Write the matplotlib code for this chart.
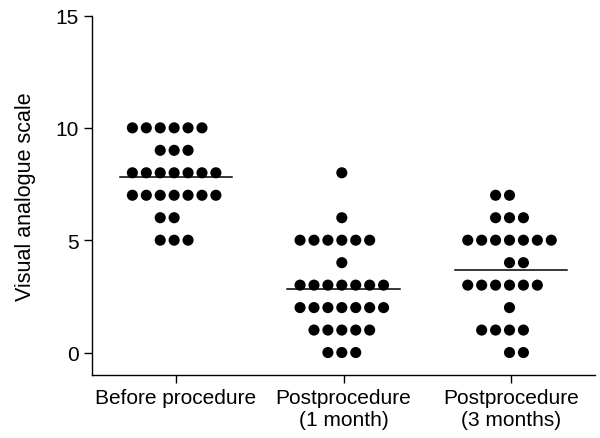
import numpy as np
import matplotlib.pyplot as plt

plt.rcParams['font.family'] = ['Liberation Sans', 'DejaVu Sans']

# Data: VAS score -> number of patients with that score
groups = ["Before procedure", "Postprocedure\n(1 month)", "Postprocedure\n(3 months)"]
scores_before = [10, 9, 8, 7, 6, 5]
counts_before = [6, 3, 7, 7, 2, 3]
scores_1m = [8, 6, 5, 4, 3, 2, 1, 0]
counts_1m = [1, 1, 6, 1, 7, 7, 5, 3]
scores_3m = [7, 6, 5, 4, 3, 2, 1, 0]
counts_3m = [2, 3, 7, 2, 6, 1, 4, 2]

# layout: rows with an even count that sit right of centre (group, score)
SHIFT_RIGHT = {(2, 4), (2, 0)}
COL = 0.083  # column spacing in axis units
HALF = 0.335  # half width of the mean line

fig = plt.figure(figsize=(6, 4.39), dpi=100)
ax = fig.add_axes([0.1533, 0.1435, 0.8384, 0.8189])

data = [(scores_before, counts_before), (scores_1m, counts_1m), (scores_3m, counts_3m)]
for g, (scores, counts) in enumerate(data):
    xs, ys = [], []
    for s, n in zip(scores, counts):
        off = np.arange(n) - n // 2
        if (g, s) in SHIFT_RIGHT:
            off = off + 1
        xs.extend(g - 0.01 + off * COL)
        ys.extend([s] * n)
    ax.scatter(xs, ys, s=64, color='black', edgecolors='none', zorder=3)
    mean = np.sum(np.array(scores) * np.array(counts)) / np.sum(counts)
    ax.plot([g - HALF, g + HALF], [mean, mean], color='black', lw=1.1, zorder=2)

ax.set_xlim(-0.5, 2.5)
ax.set_ylim(-1, 15)
ax.set_yticks([0, 5, 10, 15])
ax.set_xticks([0, 1, 2])
ax.set_xticklabels(groups)
ax.spines['top'].set_visible(False)
ax.spines['right'].set_visible(False)
for sp in ax.spines.values():
    sp.set_linewidth(1.0)
ax.tick_params(labelsize=15, length=5.5, width=1.0, color='black', pad=4)
ax.set_ylabel("Visual analogue scale", fontsize=15.5, labelpad=14)

fig.savefig("out.png", dpi=100)
